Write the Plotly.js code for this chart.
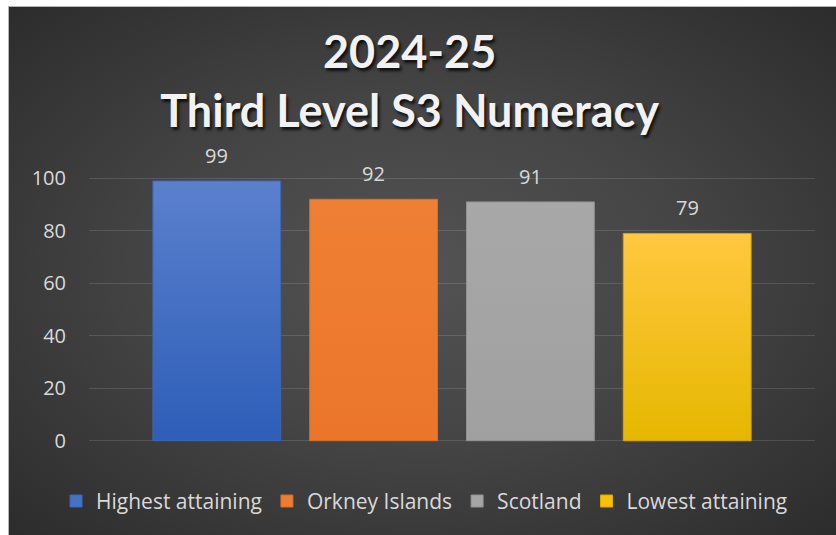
<!DOCTYPE html>
<html>
<head>
<meta charset="utf-8">
<script src="https://cdn.plot.ly/plotly-3.0.1.min.js"></script>
<style>
  html, body { margin: 0; padding: 0; background: #ffffff; }
  #frame { position: absolute; left: 8px; top: 6px; width: 828px; height: 529px;
    border-top: 1px solid #b4b4b4; border-left: 1px solid #b4b4b4; box-sizing: border-box;
    background: radial-gradient(ellipse at 50% 50%, #535353 0%, #454545 45%, #2c2c2c 100%); }
  #chart { position: absolute; left: 0; top: 0; width: 836px; height: 535px; }
</style>
</head>
<body>
<div id="frame"></div>
<div id="chart"></div>
<script>
// ---- data ----
const categories = ["Highest attaining", "Orkney Islands", "Scotland", "Lowest attaining"];
const values = [99, 92, 91, 79];
const yTicks = [0, 20, 40, 60, 80, 100];
const titleLines = ["2024-25", "Third Level S3 Numeracy"];

// ---- styling ----
const colors = ["#4472c4", "#ed7d31", "#a5a5a5", "#ffc000"];
const outline = ["#3c66b4", "#d46e2a", "#929292", "#d9a800"];
const gradStops = [
  ["#5b80cd", "#2d5eb8"],
  ["#ef7f34", "#eb762b"],
  ["#a8a8a8", "#a0a0a0"],
  ["#ffc83f", "#e6b700"]
];
const TFONT = "Lato, 'Open Sans', sans-serif";
const FONT = "'Open Sans', sans-serif";

const traces = categories.map((c, i) => ({
  type: "bar",
  name: c,
  x: [c],
  y: [values[i]],
  width: 0.815,
  marker: { color: colors[i], line: { color: outline[i], width: 1 } },
  hoverinfo: "skip"
}));

const annotations = categories.map((c, i) => ({
  x: c, y: values[i], xref: "x", yref: "y",
  text: String(values[i]), showarrow: false,
  yanchor: "bottom", yshift: 10,
  font: { family: FONT, size: 20, color: "#d9d9d9" }
}));

const layout = {
  width: 836, height: 535,
  paper_bgcolor: "rgba(0,0,0,0)",
  plot_bgcolor: "rgba(0,0,0,0)",
  margin: { l: 89, r: 21, t: 177, b: 93, autoexpand: false },
  barmode: "overlay",
  showlegend: true,
  title: {
    text: titleLines.join("<br>"),
    x: 0.49, xref: "container", xanchor: "center",
    y: 1 - 68 / 535, yref: "container", yanchor: "top",
    font: { family: TFONT, size: 45, color: "#f2f2f2", weight: "bold",
            shadow: "2px 3px 3px rgba(0,0,0,0.75)" }
  },
  xaxis: {
    type: "category",
    categoryorder: "array", categoryarray: categories,
    range: [-0.815, 3.815],
    showticklabels: false, showgrid: false, zeroline: false,
    showline: false, ticks: ""
  },
  yaxis: {
    range: [-0.5, 100.5],
    tickvals: yTicks,
    ticktext: yTicks.map(String),
    showgrid: true, gridcolor: "rgba(255,255,255,0.13)", gridwidth: 1,
    zeroline: false, showline: false, ticks: "",
    ticklabelstandoff: 22,
    tickfont: { family: FONT, size: 20, color: "#d9d9d9" }
  },
  legend: {
    orientation: "h",
    x: -0.0454, xref: "paper", xanchor: "left",
    y: -0.224, yref: "paper", yanchor: "middle",
    font: { family: FONT, size: 21, color: "#d9d9d9" },
    itemwidth: 30, traceorder: "normal",
    bgcolor: "rgba(0,0,0,0)"
  },
  annotations: annotations
};

Plotly.newPlot("chart", traces, layout, { displayModeBar: false, staticPlot: true }).then(gd => {
  const ns = "http://www.w3.org/2000/svg";
  const svg = gd.querySelector("svg.main-svg");
  let defs = svg.querySelector("defs");
  if (!defs) { defs = document.createElementNS(ns, "defs"); svg.insertBefore(defs, svg.firstChild); }
  gradStops.forEach((st, i) => {
    const g = document.createElementNS(ns, "linearGradient");
    g.setAttribute("id", "bargrad" + i);
    g.setAttribute("x1", "0"); g.setAttribute("y1", "0");
    g.setAttribute("x2", "0"); g.setAttribute("y2", "1");
    [[0, st[0]], [1, st[1]]].forEach(([o, c]) => {
      const s = document.createElementNS(ns, "stop");
      s.setAttribute("offset", String(o));
      s.setAttribute("stop-color", c);
      g.appendChild(s);
    });
    defs.appendChild(g);
  });
  gd.querySelectorAll(".barlayer .trace").forEach((tr, i) => {
    tr.querySelectorAll("path").forEach(p => { p.style.fill = "url(#bargrad" + i + ")"; });
  });
});
</script>
</body>
</html>
